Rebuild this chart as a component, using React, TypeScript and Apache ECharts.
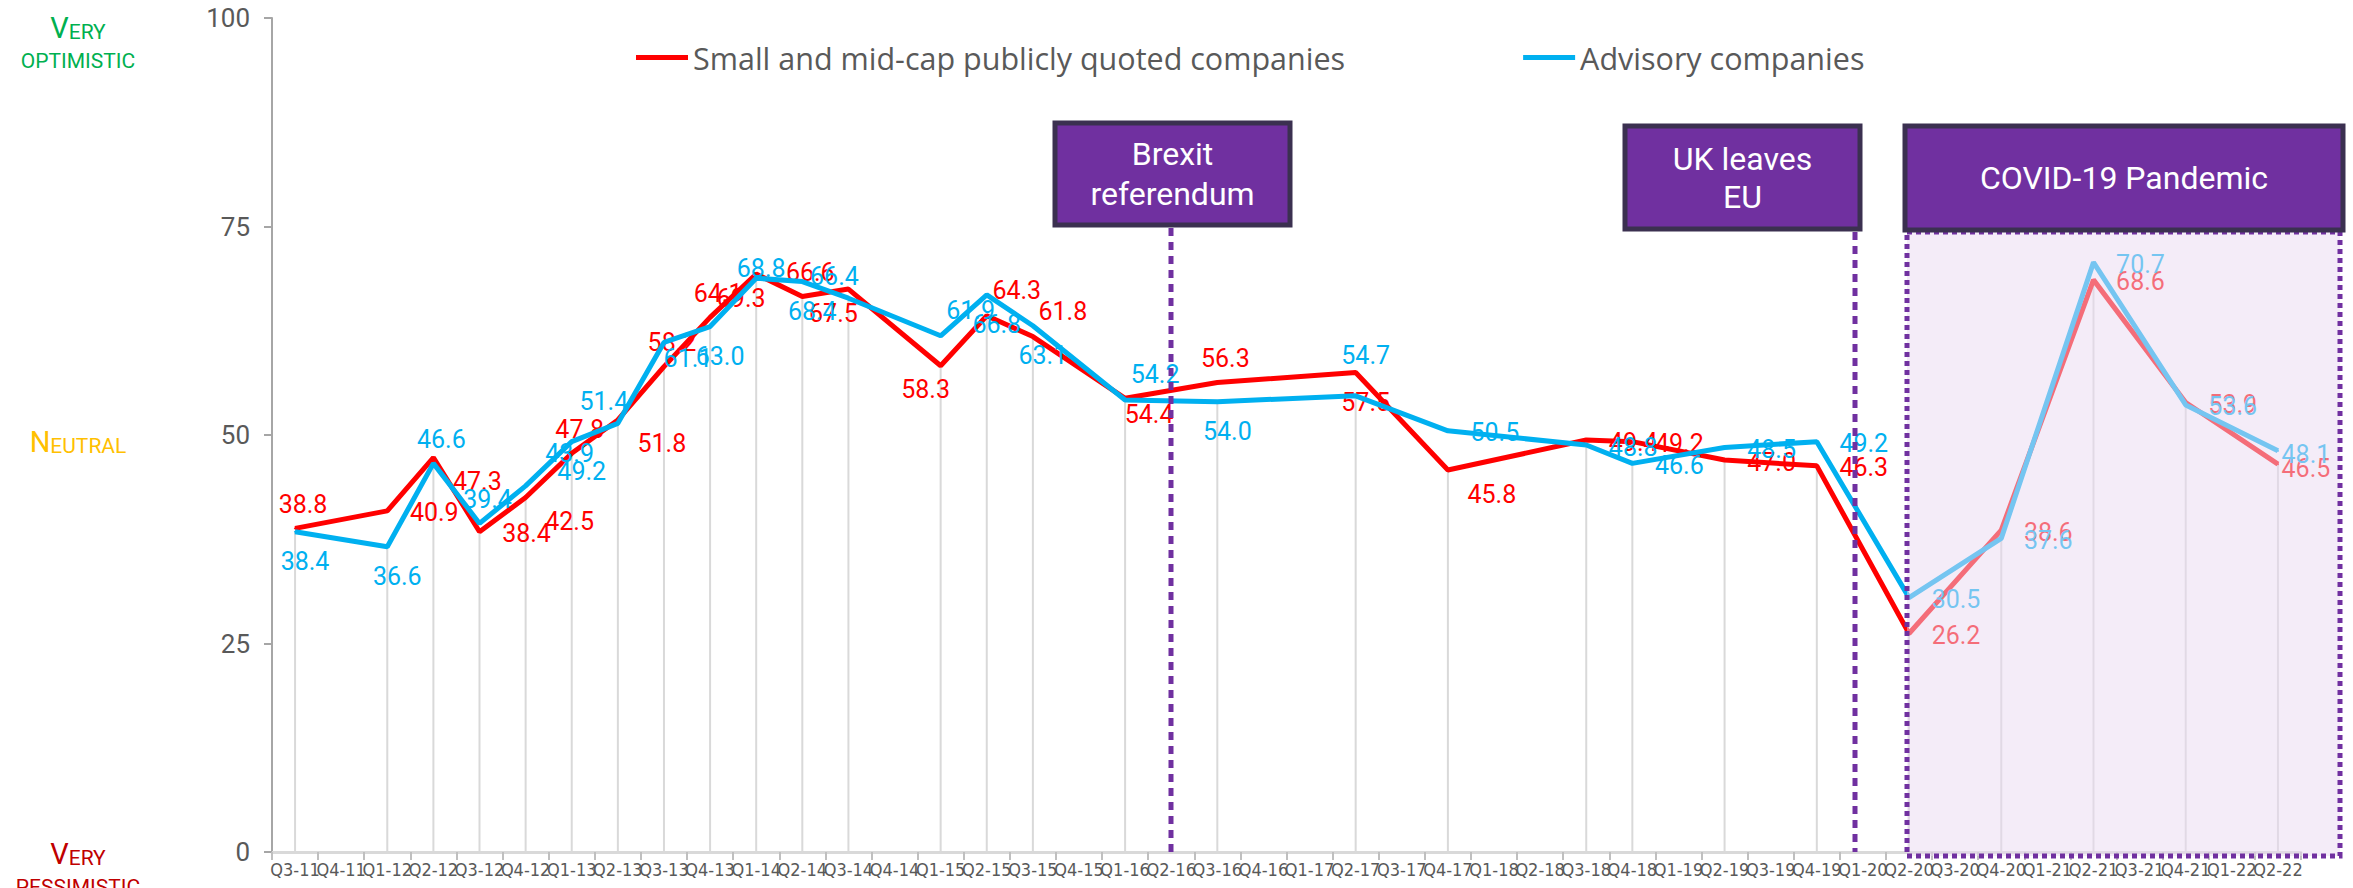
import React, { useEffect, useRef } from "react";
import * as echarts from "echarts";

const categories = [
  "Q3-11", "Q4-11", "Q1-12", "Q2-12", "Q3-12", "Q4-12", "Q1-13", "Q2-13", "Q3-13", "Q4-13",
  "Q1-14", "Q2-14", "Q3-14", "Q4-14", "Q1-15", "Q2-15", "Q3-15", "Q4-15", "Q1-16", "Q2-16",
  "Q3-16", "Q4-16", "Q1-17", "Q2-17", "Q3-17", "Q4-17", "Q1-18", "Q2-18", "Q3-18", "Q4-18",
  "Q1-19", "Q2-19", "Q3-19", "Q4-19", "Q1-20", "Q2-20", "Q3-20", "Q4-20", "Q1-21", "Q2-21",
  "Q3-21", "Q4-21", "Q1-22", "Q2-22",
];

const smallMidCap: (number | null)[] = [
  38.8, null, 40.9, 47.3, 38.4, 42.5, 47.8, 51.8, 58.2, 64.1,
  69.3, 66.6, 67.5, null, 58.3, 64.3, 61.8, null, 54.4, null,
  56.3, null, null, 57.5, null, 45.8, null, null, 49.4, 49.2,
  null, 47.0, null, 46.3, null, 26.2, null, 38.6, null, 68.6,
  null, 53.9, null, 46.5,
];

const advisory: (number | null)[] = [
  38.4, null, 36.6, 46.6, 39.4, 43.9, 49.2, 51.4, 61.1, 63.0,
  68.8, 68.4, 66.4, null, 61.9, 66.8, 63.1, null, 54.2, null,
  54.0, null, null, 54.7, null, 50.5, null, null, 48.8, 46.6,
  null, 48.5, null, 49.2, null, 30.5, null, 37.6, null, 70.7,
  null, 53.6, null, 48.1,
];

const yTicks = { min: 0, max: 100, interval: 25 };

const seriesNames = ["Small and mid-cap publicly quoted companies", "Advisory companies"];

// label placement codes (style only)
const redLabelPlace = [
  "T", "", "R", "RB", "R", "RB", "T", "RB", "T", "T",
  "BL", "T", "BL", "", "BL", "TR", "TR", "", "BR", "",
  "T", "", "", "B", "", "RB", "", "", "R", "R",
  "", "R", "", "R", "", "R", "", "R", "", "R",
  "", "R", "", "R2",
];
const blueLabelPlace = [
  "B", "", "B", "T", "T", "RT", "B", "TL", "BR", "B",
  "U", "B", "TL", "", "TR", "B", "B", "", "TR", "",
  "B", "", "", "TT", "", "R", "", "", "R", "R",
  "", "R", "", "R", "", "R", "", "R", "", "R",
  "", "R", "", "R2",
];

const PLACEMENT: Record<string, [number, number]> = {
  T: [8, -24], TT: [10, -40], U: [5, -10], TL: [-14, -22], TR: [30, -25],
  B: [10, 30], BL: [-15, 24], BR: [24, 16],
  R: [47, 2], R2: [28, 4], RB: [44, 24], RT: [44, -32],
};

const RED = "#FF0000";
const BLUE = "#00B0F0";
const PURPLE = "#7030A0";
const BOX_BORDER = "#3B3050";

function buildData(values: (number | null)[], places: string[]) {
  return values.map((v, i) =>
    v == null
      ? null
      : { value: v, label: { offset: PLACEMENT[places[i]] || [0, -24] } }
  );
}

function smallCaps(x: number, y: number, big: string, small: string, color: string) {
  return {
    type: "text",
    z: 110,
    style: {
      x, y,
      text: `{a|${big}}{b|${small}}`,
      align: "center",
      verticalAlign: "middle",
      rich: {
        a: { fontSize: 29, fontFamily: "Roboto", fill: color, verticalAlign: "bottom", lineHeight: 32 },
        b: { fontSize: 21, fontFamily: "Roboto", fill: color, verticalAlign: "bottom", lineHeight: 32 },
      },
    },
  };
}

function plainCaps(x: number, y: number, text: string, color: string) {
  return {
    type: "text",
    z: 110,
    style: { x, y, text, fontSize: 21, fontFamily: "Roboto", fill: color, align: "center", verticalAlign: "middle" },
  };
}

function eventBox(x: number, y: number, w: number, h: number, text: string, lineHeight: number) {
  return [
    {
      type: "rect", z: 120,
      shape: { x, y, width: w, height: h },
      style: { fill: PURPLE, stroke: BOX_BORDER, lineWidth: 5 },
    },
    {
      type: "text", z: 121,
      style: {
        x: x + w / 2, y: y + h / 2, text,
        fill: "#FFFFFF", fontSize: 32, fontFamily: "Roboto",
        align: "center", verticalAlign: "middle", lineHeight,
      },
    },
  ];
}

export default function App() {
  const ref = useRef<HTMLDivElement>(null);

  useEffect(() => {
    if (!ref.current) return;
    const chart = echarts.init(ref.current, null, { renderer: "svg" });

    const dropLines = categories.map((_, i) => {
      const a = smallMidCap[i];
      const b = advisory[i];
      if (a == null || b == null) return null;
      return Math.min(a, b);
    });

    const labelBase = { show: true, position: "inside", fontSize: 25, fontFamily: "Roboto" };

    chart.setOption({
      animation: false,
      backgroundColor: "#FFFFFF",
      grid: { left: 272, right: 52, top: 18, bottom: 36, containLabel: false },
      legend: {
        data: seriesNames,
        left: 631,
        top: 37,
        icon: "rect",
        itemWidth: 52,
        itemHeight: 5,
        itemGap: 178,
        textStyle: { fontSize: 30.5, color: "#595959", fontFamily: "Open Sans" },
      },
      xAxis: {
        type: "category",
        data: categories,
        boundaryGap: true,
        axisLine: { lineStyle: { color: "#D9D9D9", width: 3 } },
        axisTick: { show: true, length: 8, lineStyle: { color: "#BFBFBF", width: 2 } },
        axisLabel: {
          interval: 0,
          fontSize: 18,
          fontFamily: "'Liberation Sans Narrow', 'DejaVu Sans Condensed', Roboto",
          color: "#595959",
          margin: 8,
        },
        splitLine: { show: false },
      },
      yAxis: {
        type: "value",
        min: yTicks.min,
        max: yTicks.max,
        interval: yTicks.interval,
        axisLine: { show: true, lineStyle: { color: "#A6A6A6", width: 2 } },
        axisTick: { show: true, length: 8, lineStyle: { color: "#A6A6A6", width: 2 } },
        axisLabel: { fontSize: 26, fontFamily: "Roboto", color: "#595959", margin: 22 },
        splitLine: { show: false },
      },
      series: [
        {
          name: "drop",
          type: "bar",
          data: dropLines,
          barWidth: 2,
          itemStyle: { color: "#D9D9D9" },
          silent: true,
          z: 1,
        },
        {
          name: seriesNames[0],
          type: "line",
          data: buildData(smallMidCap, redLabelPlace),
          connectNulls: true,
          symbol: "circle",
          symbolSize: 2,
          showSymbol: true,
          lineStyle: { color: RED, width: 5 },
          itemStyle: { color: RED },
          label: { ...labelBase, color: RED, formatter: (p: any) => Number(p.value).toFixed(1) },
          emphasis: { disabled: true },
          z: 3,
        },
        {
          name: seriesNames[1],
          type: "line",
          data: buildData(advisory, blueLabelPlace),
          connectNulls: true,
          symbol: "circle",
          symbolSize: 2,
          showSymbol: true,
          lineStyle: { color: BLUE, width: 5 },
          itemStyle: { color: BLUE },
          label: { ...labelBase, color: BLUE, formatter: (p: any) => Number(p.value).toFixed(1) },
          emphasis: { disabled: true },
          z: 4,
        },
      ],
      graphic: [
        smallCaps(78, 26, "V", "ERY", "#00B050"),
        plainCaps(78, 61, "OPTIMISTIC", "#00B050"),
        smallCaps(78, 440, "N", "EUTRAL", "#FFC000"),
        smallCaps(78, 852, "V", "ERY", "#C00000"),
        plainCaps(78, 887, "PESSIMISTIC", "#C00000"),
        // COVID shaded region
        {
          type: "rect", z: 100,
          shape: { x: 1907, y: 232, width: 433, height: 624 },
          style: { fill: "rgba(233,217,241,0.5)", stroke: PURPLE, lineWidth: 5, lineDash: [5, 4] },
        },
        {
          type: "line", z: 100,
          shape: { x1: 1171, y1: 228, x2: 1171, y2: 852 },
          style: { stroke: PURPLE, lineWidth: 5, lineDash: [8, 6] },
        },
        {
          type: "line", z: 100,
          shape: { x1: 1855, y1: 232, x2: 1855, y2: 852 },
          style: { stroke: PURPLE, lineWidth: 5, lineDash: [8, 6] },
        },
        ...eventBox(1055, 123, 235, 102, "Brexit\nreferendum", 40),
        ...eventBox(1625, 126, 235, 103, "UK leaves\nEU", 38),
        ...eventBox(1905, 126, 438, 104, "COVID-19 Pandemic", 38),
      ],
    });

    return () => chart.dispose();
  }, []);

  return (
    <div
      ref={ref}
      style={{ position: "fixed", left: 0, top: 0, width: 2353, height: 888, background: "#FFFFFF" }}
    />
  );
}
